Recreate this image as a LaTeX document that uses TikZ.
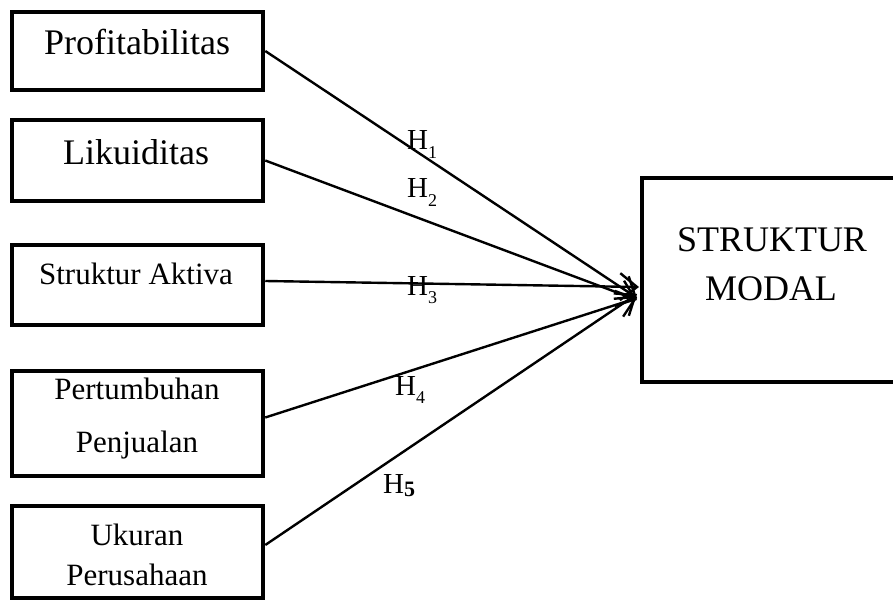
\documentclass[tikz,border=0pt]{standalone}
\usepackage{fontspec}
\setmainfont{Liberation Serif}
\usetikzlibrary{arrows.meta}
\tikzset{
  box/.style={draw=black, line width=4.5pt, fill=none, inner sep=0pt},
  lbl/.style={anchor=base, inner sep=0pt, font=\fontsize{31}{31}\selectfont},
  biglbl/.style={anchor=base, inner sep=0pt, font=\fontsize{36}{36}\selectfont},
  hlbl/.style={anchor=base west, inner sep=0pt, font=\fontsize{29}{29}\selectfont},
  conn/.style={line width=2.4pt, -{Straight Barb[length=17pt,width=27pt]}}
}
\newcommand{\hsub}[1]{\raisebox{-0.28em}{\fontsize{18}{18}\selectfont #1}}
\begin{document}
\begin{tikzpicture}[x=1pt,y=-1pt]
\useasboundingbox (0,0) rectangle (893,601);
% boxes
\node[box, minimum width=251pt, minimum height=78pt]  (b1) at (137.5,51) {};
\node[box, minimum width=251pt, minimum height=81pt]  (b2) at (137.5,160.5) {};
\node[box, minimum width=251pt, minimum height=80pt]  (b3) at (137.5,285) {};
\node[box, minimum width=251pt, minimum height=105pt] (b4) at (137.5,423.5) {};
\node[box, minimum width=251pt, minimum height=92pt]  (b5) at (137.5,552) {};
\node[box, minimum width=258pt, minimum height=204pt] (sm) at (771,280) {};
% texts
\node[biglbl] (t1) at (137,55) {Profitabilitas};
\node[biglbl] (t2) at (136,165) {Likuiditas};
\node[lbl] (t3) at (136,284) {Struktur Aktiva};
\node[lbl] (t4a) at (137,399) {Pertumbuhan};
\node[lbl] (t4b) at (137,452) {Penjualan};
\node[lbl] (t5a) at (137,545) {Ukuran};
\node[lbl] (t5b) at (137,585) {Perusahaan};
\node[biglbl] (tsa) at (772,252) {STRUKTUR};
\node[biglbl] (tsb) at (771,300) {MODAL};
% arrow tips
\coordinate (e1) at (637,298);
\coordinate (e2) at (637,300);
\coordinate (e3) at (639,287);
\coordinate (e4) at (637,298);
\coordinate (e5) at (637,294);
% connectors
\draw[conn] (b1.east) -- (e1);
\draw[conn] (b2.east) -- (e2);
\draw[conn] ([yshift=4pt]b3.east) -- (e3);
\draw[conn] ([yshift=6pt]b4.east) -- (e4);
\draw[conn] ([yshift=7pt]b5.east) -- (e5);
% labels
\node[hlbl] (h1) at (407,150) {H\hsub{1}};
\node[hlbl] (h2) at (407,198) {H\hsub{2}};
\node[hlbl] (h3) at (407,295) {H\hsub{3}};
\node[hlbl] (h4) at (395,395) {H\hsub{4}};
\node[hlbl] (h5) at (383,493) {H\raisebox{-0.12em}{\fontsize{22}{22}\selectfont\bfseries 5}};
\end{tikzpicture}
\end{document}
